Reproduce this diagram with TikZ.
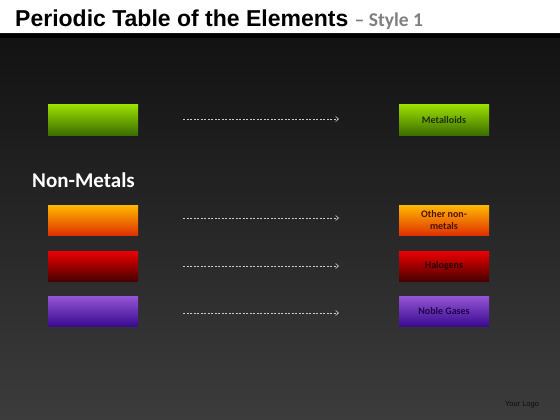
\documentclass[tikz,border=0pt]{standalone}
\usepackage{fontspec}
\setmainfont{Carlito}
\newfontfamily\arialfont{Liberation Sans}
\newfontfamily\calibrifont{Carlito}
\usetikzlibrary{arrows.meta}
\definecolor{gtop}{HTML}{9ADD00}\definecolor{gbot}{HTML}{3C6E00}
\definecolor{otop}{HTML}{FFB800}\definecolor{obot}{HTML}{E03200}
\definecolor{rtop}{HTML}{EE0000}\definecolor{rbot}{HTML}{4A0000}
\definecolor{ptop}{HTML}{9555D5}\definecolor{pbot}{HTML}{3A0A90}
\definecolor{bgtop}{HTML}{121212}\definecolor{bgbot}{HTML}{3C3C3C}
\tikzset{
  elbox/.style={minimum width=90pt,minimum height=30pt,inner sep=0pt,align=center,font=\bfseries\fontsize{10}{12}\selectfont},
  greenbox/.style={elbox,top color=gtop,bottom color=gbot,text=gbot!45!black},
  orangebox/.style={elbox,top color=otop,bottom color=obot,text=obot!35!black},
  redbox/.style={elbox,top color=rtop,bottom color=rbot,text=rbot!60!black},
  purplebox/.style={elbox,top color=ptop,bottom color=pbot,text=pbot!50!black},
  link/.style={draw=white!80!black,dashed,dash pattern=on 2pt off 1.5pt,line width=0.6pt,-{Straight Barb[length=3pt,width=5pt]}}
}
\begin{document}
\begin{tikzpicture}[x=1pt,y=-1pt]
\useasboundingbox (0,0) rectangle (560,420);
\fill[white] (0,0) rectangle (560,34);
\shade[top color=bgtop,bottom color=bgbot] (0,34) rectangle (560,420);
\fill[black] (0,34) rectangle (560,38);
\node[anchor=base west,inner sep=0pt] (title) at (15,27) {\arialfont\bfseries\fontsize{23}{28}\selectfont Periodic Table of the Elements\ {\calibrifont\bfseries\fontsize{19.5}{22}\selectfont\color{black!50}– Style 1}};
\node[greenbox] (l1) at (93,120) {};
\node[orangebox] (l2) at (93,220) {};
\node[redbox] (l3) at (93,266) {};
\node[purplebox] (l4) at (93,311) {};
\node[greenbox] (r1) at (444,120) {Metalloids};
\node[orangebox] (r2) at (444,220) {Other non-\\metals};
\node[redbox] (r3) at (444,266) {Halogens};
\node[purplebox] (r4) at (444,311) {Noble Gases};
\node[anchor=west,inner sep=0pt,text=white,font=\bfseries\fontsize{21}{24}\selectfont] (nm) at (32,180) {Non-Metals};
\foreach \i/\y in {1/119,2/218,3/266,4/313}{
  \coordinate (a\i) at (183,\y);
  \coordinate (b\i) at (339,\y);
  \draw[link] (a\i) -- (b\i);
}
\node[text=black!95,font=\arialfont\fontsize{7.5}{9}\selectfont] (logo) at (522,405) {Your Logo};
\end{tikzpicture}
\end{document}
